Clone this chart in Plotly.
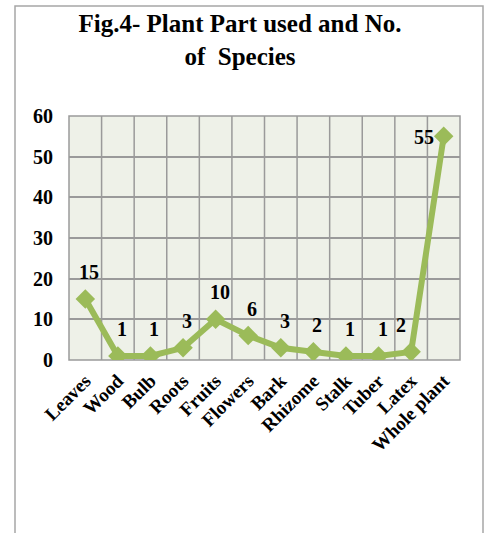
import plotly.graph_objects as go

# Plant parts used and the number of species for each
parts = ["Leaves", "Wood", "Bulb", "Roots", "Fruits", "Flowers", "Bark",
         "Rhizome", "Stalk", "Tuber", "Latex", "Whole plant"]
species = [15, 1, 1, 3, 10, 6, 3, 2, 1, 1, 2, 55]
y_ticks = [0, 10, 20, 30, 40, 50, 60]

GREEN = "#9BBB59"
GRID = "#9a9a9a"
SERIF = "Liberation Serif"

W, H = 486, 533
L, R, T, B = 69, 26, 116, 173
plot_w = W - L - R
plot_h = H - T - B

fig = go.Figure()
fig.add_trace(go.Scatter(
    x=parts, y=species, mode="lines+markers",
    line=dict(color=GREEN, width=6),
    marker=dict(symbol="diamond", size=15, color=GREEN),
    hoverinfo="skip", showlegend=False,
))

# value labels above each point; the last two sit to the left
offsets = {"Latex": (-10, 27), "Whole plant": (-20, -1)}
for p, v in zip(parts, species):
    dx, dy = offsets.get(p, (4, 27))
    fig.add_annotation(
        x=p, y=v, text=str(v), showarrow=False,
        xshift=dx, yshift=dy,
        font=dict(family=SERIF, size=20, color="black", weight="bold"),
    )


def px_x(x):
    return (x - L) / plot_w


def px_y(y):
    return (H - B - y) / plot_h


# outer chart border
fig.add_shape(type="rect", xref="paper", yref="paper",
              x0=px_x(15), x1=px_x(483), y0=px_y(545), y1=px_y(6),
              line=dict(color="#a6a6a6", width=1.5), layer="below")

# plot frame and vertical grid lines at category boundaries
fig.add_shape(type="rect", xref="paper", yref="paper",
              x0=0, x1=1, y0=0, y1=1,
              line=dict(color=GRID, width=1.5), layer="below")
for i in range(1, len(parts)):
    fig.add_shape(type="line", xref="paper", yref="paper",
                  x0=i / len(parts), x1=i / len(parts), y0=0, y1=1,
                  line=dict(color=GRID, width=1.5), layer="below")

fig.update_layout(
    width=W, height=H,
    margin=dict(l=L, r=R, t=T, b=B),
    paper_bgcolor="white",
    plot_bgcolor="#EEF1E8",
    title=dict(
        text="Fig.4- Plant Part used and No.<br>of  Species",
        xref="container", x=240 / W, xanchor="center",
        yref="container", y=1 - 32 / H, yanchor="middle",
        font=dict(family=SERIF, size=25, color="black", weight="bold"),
    ),
    xaxis=dict(
        type="category", range=[-0.5, len(parts) - 0.5],
        showgrid=False, zeroline=False, showline=False,
        tickangle=-45, ticks="", ticklabelstandoff=5,
        tickfont=dict(family=SERIF, size=19, color="black", weight="bold"),
    ),
    yaxis=dict(
        range=[0, 60], tickvals=y_ticks,
        showgrid=True, gridcolor=GRID, gridwidth=1.5,
        zeroline=False, showline=False, ticks="",
        ticklabelstandoff=15,
        tickfont=dict(family=SERIF, size=20, color="black", weight="bold"),
    ),
)

fig.write_html("out.html")
